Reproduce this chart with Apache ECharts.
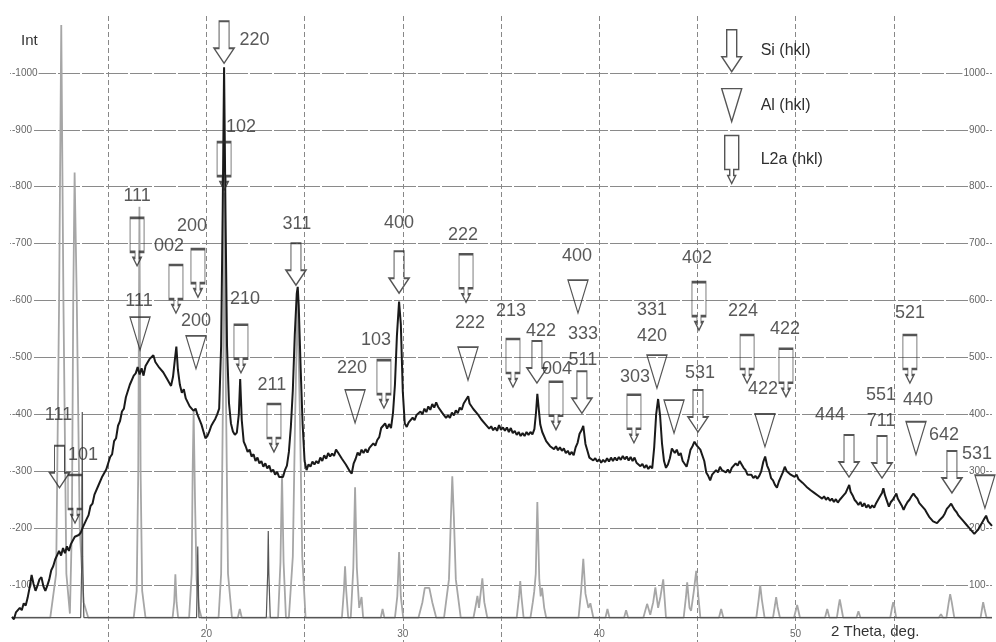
<!DOCTYPE html>
<html>
<head>
<meta charset="UTF-8">
<title>XRD pattern</title>
<script src="https://cdn.jsdelivr.net/npm/echarts@6/dist/echarts.min.js"></script>
<style>
  * { margin: 0; padding: 0; }
  body { background: #fff; }
  #chart { width: 996px; height: 642px; }
</style>
</head>
<body>
<div id="chart"></div>
<script>
// measured pattern (2 theta, intensity)
const measured = [[10.1,44],[10.2,40],[10.3,52],[10.4,49],[10.5,60],[10.6,56],[10.7,68],[10.8,64],[10.9,78],[11.0,96],[11.1,118],[11.2,102],[11.3,90],[11.4,99],[11.5,110],[11.6,114],[11.7,98],[11.8,90],[11.9,99],[12.0,110],[12.1,126],[12.2,133],[12.3,145],[12.4,148],[12.5,160],[12.6,152],[12.7,165],[12.8,156],[12.9,168],[13.0,160],[13.1,172],[13.2,174],[13.3,185],[13.4,183],[13.5,188],[13.6,192],[13.7,201],[13.8,199],[13.9,216],[14.0,223],[14.1,239],[14.2,243],[14.3,259],[14.4,262],[14.5,275],[14.6,277],[14.7,291],[14.8,290],[14.9,303],[15.0,306],[15.1,325],[15.2,330],[15.3,353],[15.4,358],[15.5,380],[15.6,388],[15.7,405],[15.8,410],[15.9,430],[16.0,433],[16.1,452],[16.2,452],[16.3,468],[16.4,472],[16.5,483],[16.6,470],[16.7,481],[16.8,468],[16.9,485],[17.0,487],[17.1,497],[17.2,494],[17.3,504],[17.4,492],[17.5,495],[17.6,482],[17.7,484],[17.8,474],[17.9,475],[18.0,462],[18.1,460],[18.2,450],[18.3,466],[18.4,498],[18.47,519],[18.55,478],[18.65,452],[18.75,438],[18.85,444],[18.95,428],[19.05,426],[19.15,414],[19.25,416],[19.35,406],[19.45,410],[19.55,399],[19.65,398],[19.75,382],[19.85,370],[19.95,358],[20.05,362],[20.15,370],[20.25,380],[20.35,386],[20.45,392],[20.55,400],[20.65,410],[20.75,520],[20.83,760],[20.9,1010],[20.97,760],[21.05,520],[21.15,420],[21.25,384],[21.35,370],[21.45,364],[21.55,368],[21.65,400],[21.72,462],[21.8,390],[21.9,352],[22.0,344],[22.1,334],[22.2,338],[22.3,326],[22.4,330],[22.5,318],[22.6,324],[22.7,314],[22.8,318],[22.9,308],[23.0,314],[23.1,305],[23.2,310],[23.3,299],[23.4,303],[23.5,294],[23.6,299],[23.7,290],[23.8,293],[23.9,290],[24.0,302],[24.1,310],[24.2,334],[24.3,378],[24.4,442],[24.5,540],[24.6,612],[24.65,624],[24.7,592],[24.8,480],[24.9,382],[25.0,318],[25.1,302],[25.2,312],[25.3,308],[25.4,317],[25.5,312],[25.6,318],[25.7,314],[25.8,324],[25.9,318],[26.0,328],[26.1,322],[26.2,332],[26.3,326],[26.4,331],[26.5,327],[26.6,338],[26.7,333],[26.8,331],[26.9,322],[27.0,322],[27.1,312],[27.2,313],[27.3,300],[27.4,296],[27.5,314],[27.6,322],[27.7,333],[27.8,328],[27.9,338],[28.0,332],[28.1,339],[28.2,333],[28.3,341],[28.4,338],[28.5,349],[28.6,345],[28.7,355],[28.8,360],[28.9,376],[29.0,380],[29.1,384],[29.2,375],[29.3,383],[29.4,376],[29.5,402],[29.6,452],[29.7,538],[29.81,598],[29.9,558],[30.0,440],[30.1,384],[30.2,378],[30.3,386],[30.4,383],[30.5,394],[30.6,390],[30.7,399],[30.8,397],[30.9,405],[31.0,400],[31.1,410],[31.2,404],[31.3,414],[31.4,408],[31.5,418],[31.6,412],[31.7,421],[31.8,413],[31.9,415],[32.0,403],[32.1,405],[32.2,394],[32.3,398],[32.4,394],[32.5,403],[32.6,398],[32.7,407],[32.8,402],[32.9,412],[33.0,408],[33.1,419],[33.2,418],[33.33,432],[33.4,419],[33.5,421],[33.6,409],[33.7,411],[33.8,401],[33.9,403],[34.0,391],[34.1,393],[34.2,383],[34.3,385],[34.4,375],[34.5,379],[34.6,372],[34.7,377],[34.8,371],[34.9,381],[35.0,373],[35.1,377],[35.2,371],[35.3,377],[35.4,369],[35.5,376],[35.6,367],[35.7,371],[35.8,364],[35.9,369],[36.0,362],[36.1,367],[36.2,362],[36.3,369],[36.4,364],[36.5,369],[36.6,365],[36.7,374],[36.78,402],[36.85,436],[36.92,410],[37.0,382],[37.1,369],[37.2,366],[37.3,353],[37.4,352],[37.5,344],[37.6,347],[37.7,339],[37.8,344],[37.9,337],[38.0,342],[38.1,336],[38.2,340],[38.3,332],[38.4,336],[38.5,329],[38.6,334],[38.7,328],[38.8,342],[38.9,350],[39.0,366],[39.1,372],[39.19,380],[39.3,348],[39.4,336],[39.5,324],[39.6,327],[39.7,319],[39.8,323],[39.9,317],[40.0,321],[40.1,315],[40.2,320],[40.3,316],[40.4,323],[40.5,317],[40.6,324],[40.7,318],[40.8,324],[40.9,319],[41.0,325],[41.1,320],[41.2,327],[41.3,321],[41.4,326],[41.5,319],[41.6,325],[41.7,318],[41.8,324],[41.9,315],[42.0,318],[42.1,309],[42.2,313],[42.3,306],[42.4,311],[42.5,304],[42.6,309],[42.7,305],[42.8,342],[42.9,400],[43.0,427],[43.1,398],[43.2,348],[43.3,318],[43.4,306],[43.5,312],[43.6,323],[43.7,340],[43.77,343],[43.85,332],[43.95,338],[44.05,328],[44.15,332],[44.25,318],[44.35,316],[44.45,308],[44.55,322],[44.65,338],[44.75,344],[44.85,352],[44.95,346],[45.05,348],[45.15,338],[45.25,340],[45.35,318],[45.45,298],[45.55,292],[45.65,284],[45.75,294],[45.85,292],[45.95,302],[46.05,298],[46.15,308],[46.25,302],[46.35,305],[46.45,298],[46.55,303],[46.65,297],[46.75,306],[46.85,304],[46.95,314],[47.05,310],[47.15,318],[47.25,320],[47.35,306],[47.45,302],[47.55,294],[47.65,291],[47.75,294],[47.85,288],[47.95,292],[48.05,287],[48.15,292],[48.25,300],[48.35,316],[48.45,326],[48.55,310],[48.65,302],[48.75,288],[48.85,284],[48.95,276],[49.05,271],[49.15,282],[49.25,290],[49.35,298],[49.45,308],[49.55,300],[49.65,303],[49.75,294],[49.85,297],[49.95,290],[50.05,294],[50.15,286],[50.25,288],[50.35,280],[50.45,282],[50.55,273],[50.65,276],[50.75,267],[50.85,270],[50.95,262],[51.05,265],[51.15,257],[51.25,260],[51.35,252],[51.45,256],[51.55,250],[51.65,254],[51.75,248],[51.85,252],[51.95,246],[52.05,251],[52.15,245],[52.25,250],[52.35,248],[52.45,258],[52.55,262],[52.65,270],[52.73,276],[52.8,264],[52.9,258],[53.0,250],[53.1,246],[53.2,241],[53.3,246],[53.4,238],[53.5,244],[53.6,236],[53.7,241],[53.8,235],[53.9,240],[54.0,236],[54.1,244],[54.2,246],[54.3,256],[54.4,262],[54.47,270],[54.55,258],[54.65,248],[54.75,238],[54.85,246],[54.95,250],[55.05,256],[55.13,261],[55.2,252],[55.3,246],[55.4,240],[55.5,232],[55.6,240],[55.7,246],[55.8,250],[55.9,256],[56.0,261],[56.1,256],[56.2,252],[56.3,244],[56.4,246],[56.5,236],[56.6,232],[56.7,226],[56.8,220],[56.9,216],[57.0,212],[57.1,214],[57.2,209],[57.3,213],[57.4,210],[57.5,220],[57.6,226],[57.7,234],[57.8,238],[57.92,243],[58.0,238],[58.1,232],[58.2,228],[58.3,222],[58.4,220],[58.5,214],[58.6,213],[58.7,206],[58.8,205],[58.9,198],[59.0,196],[59.1,190],[59.19,188],[59.3,198],[59.4,200],[59.5,210],[59.6,216],[59.7,222],[59.8,212],[59.9,208],[60.0,204]];

// calculated pattern, broad grey profile
const calcBroad = [[10.1,43],[12.05,43],[12.35,120],[12.5,600],[12.61,1084],[12.72,600],[12.87,120],[13.05,50],[13.15,200],[13.22,600],[13.29,825],[13.4,600],[13.55,200],[13.75,70],[13.98,43],
[16.3,43],[16.45,90],[16.53,300],[16.59,765],[16.65,300],[16.73,90],[16.9,43],
[18.28,43],[18.36,70],[18.42,119],[18.48,70],[18.56,43],
[19.12,43],[19.25,120],[19.3,300],[19.35,405],[19.42,250],[19.5,110],[19.62,60],[19.75,43],
[20.62,43],[20.75,120],[20.85,450],[20.92,790],[20.99,450],[21.1,120],[21.3,43],
[21.6,43],[21.7,58],[21.8,43],
[23.65,43],[23.77,140],[23.85,295],[23.93,140],[24.05,43],
[24.2,43],[24.4,150],[24.52,400],[24.64,600],[24.76,400],[24.88,150],[25.05,43],
[26.9,43],[27.0,90],[27.06,133],[27.12,90],[27.22,43],
[27.35,43],[27.48,130],[27.57,272],[27.66,130],[27.78,60],[27.9,79],[27.98,43],
[28.88,43],[28.97,58],[29.06,43],
[29.6,43],[29.72,80],[29.81,158],[29.9,80],[30.02,43],
[30.8,43],[31.0,70],[31.12,95],[31.35,95],[31.5,70],[31.7,43],
[32.1,43],[32.35,110],[32.45,220],[32.52,291],[32.6,220],[32.7,110],[32.95,43],
[33.6,43],[33.72,65],[33.8,81],[33.88,60],[34.05,112],[34.15,70],[34.3,43],
[35.8,43],[35.92,80],[35.98,107],[36.04,80],[36.15,43],
[36.5,43],[36.62,70],[36.69,88],[36.77,120],[36.85,246],[36.95,110],[37.02,80],[37.09,95],[37.2,60],[37.3,43],
[38.95,43],[39.08,90],[39.19,146],[39.3,85],[39.45,60],[39.55,68],[39.7,43],
[40.32,43],[40.42,58],[40.52,43],
[41.27,43],[41.37,56],[41.47,43],
[42.25,43],[42.44,67],[42.6,48],[42.75,70],[42.86,96],[43.0,60],[43.12,80],[43.26,110],[43.4,43],
[44.3,43],[44.42,80],[44.48,105],[44.6,60],[44.68,55],[44.82,90],[44.94,125],[45.05,80],[45.15,43],
[46.1,43],[46.21,58],[46.32,43],
[48.0,43],[48.12,75],[48.2,100],[48.28,75],[48.42,43],
[48.85,43],[48.95,65],[49.01,79],[49.08,62],[49.2,43],
[49.92,43],[50.08,65],[50.22,43],
[51.5,43],[51.61,58],[51.72,43],
[52.1,43],[52.2,65],[52.25,75],[52.32,62],[52.42,43],
[53.1,43],[53.2,54],[53.3,43],
[54.82,43],[54.92,62],[54.97,70],[55.03,62],[55.12,43],
[57.3,43],[57.4,49],[57.5,43],
[57.68,43],[57.8,70],[57.87,84],[57.95,70],[58.08,43],
[59.42,43],[59.5,60],[59.55,70],[59.62,58],[59.72,43],[60,43]];

// calculated pattern, thin dark lines
const calcThin = [[10.1,43],[13.6,43],[13.66,150],[13.68,404],[13.7,150],[13.76,43],
[19.5,43],[19.54,120],[19.56,168],[19.58,120],[19.62,43],
[23.05,43],[23.12,120],[23.15,195],[23.18,120],[23.25,43],[60,43]];

// phase markers: tip position and hkl
const siPeaks = [[20.90,1017],[24.56,627],[29.81,613],[12.52,271],[36.83,455],[39.12,402],[45.03,369],[52.72,290],[54.40,288],[57.96,262]];
const siHkl = ['220','311','400','111','422','333\n511','531','444','551\n711','642'];

const alPeaks = [[16.62,513],[19.47,480],[27.57,385],[33.32,460],[38.92,578],[42.94,446],[43.81,367],[48.44,343],[56.13,329],[59.64,235]];
const alHkl = ['111','200','220','222','400','331\n420','','422','440','531'];

const l2aPeaks = [[16.47,661],[18.45,578],[19.57,606],[20.90,794],[21.76,473],[23.44,334],[29.04,411],[33.22,597],[35.61,448],[37.80,373],[41.77,350],[45.08,548],[47.53,455],[49.51,431],[55.82,455],[13.31,209]];
const l2aHkl = ['111','002','200','102','210','211','103','222','213','004','303','402','224','422','521','101'];

// label nudges (px)
const siShift = [[0,-2],[1,-3],[0,-12],[-1,-15],[4,6],[1,8],[2,-1],[-19,-4],[-1,4],[-8,0]];
const alShift = [[-1,0],[0,1],[-3,-6],[2,-8],[-1,-8],[-5,0],[0,0],[-2,-9],[2,-6],[-8,-5]];
const l2aShift = [[0,-6],[-7,-3],[-6,-7],[17,1],[4,-9],[-2,-3],[-8,-4],[-3,-3],[-2,-12],[1,4],[1,-1],[-2,-8],[-4,-8],[-1,-3],[0,-6],[8,-4]];

const SI_PATH = 'path://M5,0L15,0L15,27L20,27L10,42L0,27L5,27Z';
const AL_PATH = 'path://M0,0L20,0L10,33Z';
const L2A_PATH = 'path://M0,0L14,0L14,34L9,34L9,40L11,40L7,48L3,40L5,40L5,34L0,34Z';
// legend icons share one 20x50 box (padded with move-to points)
const SI_ICON = 'path://M0,-4M20,46M5,0L15,0L15,27L20,27L10,42L0,27L5,27Z';
const AL_ICON = 'path://M0,-8.5M20,41.5M0,0L20,0L10,33Z';
const L2A_ICON = 'path://M-3,-1M17,49M0,0L14,0L14,34L9,34L9,40L11,40L7,48L3,40L5,40L5,34L0,34Z';

const FONT = '"Liberation Sans", Arial, sans-serif';

function markerData(pos, hkl, shift, first) {
  return pos.map((p, i) => {
    const multi = hkl[i].indexOf('\n') >= 0;
    const item = {
      value: p,
      name: hkl[i],
      label: { offset: shift[i], lineHeight: multi ? 26 : 20 }
    };
    if (first && i === 0) item.label.position = 'right';
    return item;
  });
}

function markerSeries(name, path, size, data) {
  return {
    name: name,
    type: 'scatter',
    symbol: path,
    symbolSize: size,
    symbolKeepAspect: false,
    symbolOffset: [0, '-50%'],
    itemStyle: { color: 'rgba(255,255,255,0)', borderColor: '#2a2a2a', borderWidth: 1.4 },
    label: {
      show: true, position: 'top', distance: 5, formatter: '{b}',
      fontSize: 18, color: '#2e2e2e', fontFamily: FONT
    },
    emphasis: { disabled: true },
    z: 5,
    data: data
  };
}

const chart = echarts.init(document.getElementById('chart'));
chart.setOption({
  animation: false,
  textStyle: { fontFamily: FONT },
  grid: { left: 10, right: 4, top: 16, bottom: 0, outerBoundsMode: 'none' },
  legend: {
    orient: 'vertical', left: 716, top: 20,
    itemWidth: 20, itemHeight: 50, itemGap: 3,
    selectedMode: false,
    itemStyle: { color: '#fff', borderColor: '#2a2a2a', borderWidth: 1.4 },
    textStyle: { fontSize: 16, color: '#2e2e2e', padding: [0, 0, 0, 14] },
    data: [
      { name: 'Si (hkl)', icon: SI_ICON },
      { name: 'Al (hkl)', icon: AL_ICON },
      { name: 'L2a (hkl)', icon: L2A_ICON }
    ]
  },
  xAxis: {
    type: 'value', min: 10, max: 60, interval: 5,
    axisLine: { show: false }, axisTick: { show: false },
    axisLabel: {
      inside: true, margin: 3, fontSize: 10, color: '#666',
      backgroundColor: '#fff', padding: [0, 1],
      formatter: v => (v % 10 === 0 && v > 10 && v < 60) ? String(v) : ''
    },
    splitLine: {
      show: true, showMinLine: false, showMaxLine: false,
      lineStyle: { color: '#888', width: 1, type: [5, 3] }
    }
  },
  yAxis: [{
    type: 'value', min: 0, max: 1100, interval: 100,
    axisLine: { show: false }, axisTick: { show: false },
    axisLabel: {
      inside: true, margin: 1, fontSize: 10, color: '#666',
      backgroundColor: '#fff', padding: [0, 1],
      showMinLabel: false, showMaxLabel: false,
      formatter: v => '-' + v
    },
    splitLine: {
      show: true, showMinLine: false, showMaxLine: false,
      lineStyle: { color: '#8a8a8a', width: 1, type: [22, 2] }
    }
  }, {
    type: 'value', position: 'right', min: 0, max: 1100, interval: 100,
    axisLine: { show: false }, axisTick: { show: false },
    axisLabel: {
      inside: true, margin: 2, fontSize: 10, color: '#666',
      backgroundColor: '#fff', padding: [0, 1],
      showMinLabel: false, showMaxLabel: false,
      formatter: v => v + '-'
    },
    splitLine: { show: false }
  }],
  graphic: [
    { type: 'text', left: 21, top: 33, style: { text: 'Int', fontSize: 15, fill: '#333', fontFamily: FONT } },
    { type: 'text', left: 831, top: 624, style: { text: '2 Theta, deg.', fontSize: 15, fill: '#333', fontFamily: FONT } }
  ],
  series: [
    {
      name: 'calc', type: 'line', data: calcBroad, showSymbol: false, silent: true,
      lineStyle: { color: '#a6a6a6', width: 1.8 }, z: 1
    },
    {
      name: 'calc2', type: 'line', data: calcThin, showSymbol: false, silent: true,
      lineStyle: { color: '#555', width: 1.2 }, z: 2
    },
    {
      name: 'exp', type: 'line', data: measured, showSymbol: false, silent: true,
      lineStyle: { color: '#1a1a1a', width: 2 }, z: 3
    },
    markerSeries('Si (hkl)', SI_PATH, [20, 42], markerData(siPeaks, siHkl, siShift, true)),
    markerSeries('Al (hkl)', AL_PATH, [20, 33], markerData(alPeaks, alHkl, alShift, false)),
    markerSeries('L2a (hkl)', L2A_PATH, [14, 48], markerData(l2aPeaks, l2aHkl, l2aShift, false))
  ]
});
</script>
</body>
</html>
